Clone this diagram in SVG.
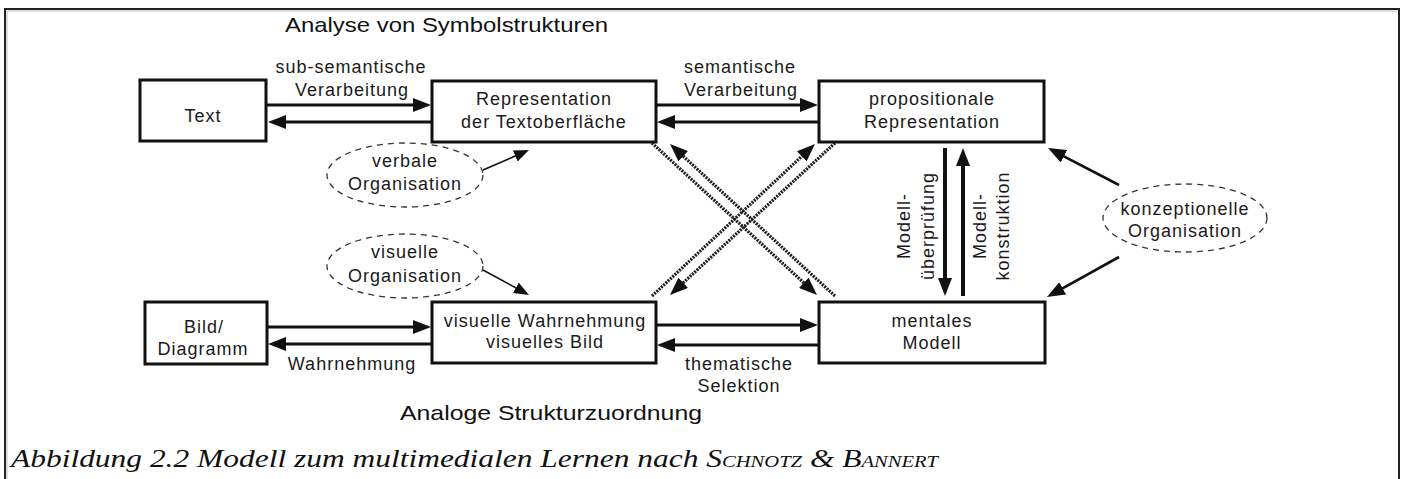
<svg xmlns="http://www.w3.org/2000/svg" width="1404" height="479" viewBox="0 0 1404 479">
<style>
.box{fill:#fff;stroke:#111;stroke-width:3}
.ell{fill:none;stroke:#333;stroke-width:1.3;stroke-dasharray:6 5}
.t{font-family:"Liberation Sans",Arial,sans-serif;font-size:18px;letter-spacing:1px;fill:#1a1a1a;text-anchor:middle}
.title{font-family:"Liberation Sans",Arial,sans-serif;font-size:21px;fill:#111}
.cap{font-family:"Liberation Serif","Times New Roman",serif;font-size:26px;font-style:italic;fill:#111}
.sc{font-size:17px}
.a{fill:none;stroke:#111;stroke-width:3;marker-end:url(#ah)}
.v{fill:none;stroke:#111;stroke-width:4;marker-end:url(#ah)}
.th{fill:none;stroke:#111;stroke-width:1.6;marker-end:url(#ahs)}
.k{fill:none;stroke:#111;stroke-width:2.6;marker-end:url(#ah)}
.ha{fill:none;stroke:#1e1e1e;stroke-width:3.2;stroke-dasharray:2 1.1;marker-end:url(#ahd)}
</style>
<defs>
<marker id="ah" viewBox="0 0 18 14" refX="12" refY="7" markerWidth="18" markerHeight="14" markerUnits="userSpaceOnUse" orient="auto"><path d="M0,0 L18,7 L0,14 Z" fill="#111"/></marker>
<marker id="ahs" viewBox="0 0 15 12" refX="10" refY="6" markerWidth="15" markerHeight="12" markerUnits="userSpaceOnUse" orient="auto"><path d="M0,0 L15,6 L0,12 Z" fill="#111"/></marker>
<marker id="ahd" viewBox="0 0 18 14" refX="12" refY="7" markerWidth="18" markerHeight="14" markerUnits="userSpaceOnUse" orient="auto"><path d="M0,0 L18,7 L0,14 Z" fill="#111"/></marker>
</defs>
<rect x="0" y="0" width="1404" height="479" fill="#fff"/>
<path d="M5,479 V9 H1399 V479" fill="none" stroke="#222" stroke-width="2"/>
<path d="M7,479 V11 H1397" fill="none" stroke="#bbb" stroke-width="1"/>
<text class="title" x="285" y="32" textLength="323" lengthAdjust="spacingAndGlyphs">Analyse von Symbolstrukturen</text>
<text class="title" x="400" y="420" textLength="302" lengthAdjust="spacingAndGlyphs">Analoge Strukturzuordnung</text>
<text class="cap" x="11" y="467" textLength="927" lengthAdjust="spacingAndGlyphs">Abbildung 2.2 Modell zum multimedialen Lernen nach S<tspan class="sc">CHNOTZ</tspan> &amp; B<tspan class="sc">ANNERT</tspan></text>
<g id="connectors">
<line class="a" x1="267" y1="105" x2="425" y2="105"/>
<line class="a" x1="431" y1="122" x2="274" y2="122"/>
<line class="a" x1="657" y1="105" x2="812" y2="105"/>
<line class="a" x1="818" y1="122" x2="663" y2="122"/>
<line class="a" x1="268" y1="327" x2="425" y2="327"/>
<line class="a" x1="431" y1="344" x2="274" y2="344"/>
<line class="a" x1="657" y1="325" x2="812" y2="325"/>
<line class="a" x1="818" y1="345" x2="663" y2="345"/>
<line class="v" x1="945" y1="148" x2="945" y2="290"/>
<line class="v" x1="963" y1="296" x2="963" y2="154"/>
<line class="th" x1="483" y1="170" x2="524.4" y2="152"/>
<line class="th" x1="483" y1="270" x2="524.6" y2="292.6"/>
<line class="k" x1="1119" y1="185" x2="1053.3" y2="150.8"/>
<line class="k" x1="1119" y1="257" x2="1052.2" y2="294.1"/>
<line class="ha" x1="652" y1="143" x2="812.6" y2="290.9"/>
<line class="ha" x1="835" y1="296" x2="674.4" y2="148.1"/>
<line class="ha" x1="652" y1="296" x2="810.6" y2="148.1"/>
<line class="ha" x1="835" y1="143" x2="674.4" y2="290.9"/>
<text class="t" x="351" y="73">sub-semantische</text>
<text class="t" x="352" y="96">Verarbeitung</text>
<text class="t" x="740" y="73">semantische</text>
<text class="t" x="741" y="96">Verarbeitung</text>
<text class="t" x="352" y="370">Wahrnehmung</text>
<text class="t" x="739" y="370">thematische</text>
<text class="t" x="739" y="392">Selektion</text>
<g transform="translate(0,226) rotate(-90)">
<text class="t" x="0" y="910">Modell-</text>
<text class="t" x="0" y="934">überprüfung</text>
</g>
<g transform="translate(0,226) rotate(-90)">
<text class="t" x="0" y="986">Modell-</text>
<text class="t" x="0" y="1009">konstruktion</text>
</g>
</g>
<g id="text">
<rect class="box" x="140" y="80" width="126" height="61"/>
<text class="t" x="203" y="122">Text</text>
</g>
<g id="rep">
<rect class="box" x="432" y="81" width="224" height="61"/>
<text class="t" x="544" y="105">Representation</text>
<text class="t" x="544" y="128">der Textoberfläche</text>
</g>
<g id="prop">
<rect class="box" x="819" y="81" width="225" height="61"/>
<text class="t" x="932" y="105">propositionale</text>
<text class="t" x="932" y="128">Representation</text>
</g>
<g id="bild">
<rect class="box" x="145" y="302" width="122" height="62"/>
<text class="t" x="204" y="333">Bild/</text>
<text class="t" x="203" y="355">Diagramm</text>
</g>
<g id="visuell">
<rect class="box" x="432" y="302" width="224" height="61"/>
<text class="t" x="545" y="327">visuelle Wahrnehmung</text>
<text class="t" x="545" y="348">visuelles Bild</text>
</g>
<g id="mental">
<rect class="box" x="819" y="302" width="226" height="61"/>
<text class="t" x="932" y="327">mentales</text>
<text class="t" x="932" y="349">Modell</text>
</g>
<g id="verbal">
<ellipse class="ell" cx="405" cy="175" rx="78" ry="32"/>
<text class="t" x="405" y="167">verbale</text>
<text class="t" x="405" y="190">Organisation</text>
</g>
<g id="visorg">
<ellipse class="ell" cx="405" cy="266" rx="78" ry="32"/>
<text class="t" x="405" y="258">visuelle</text>
<text class="t" x="405" y="282">Organisation</text>
</g>
<g id="konz">
<ellipse class="ell" cx="1185" cy="218" rx="82" ry="34"/>
<text class="t" x="1185" y="215">konzeptionelle</text>
<text class="t" x="1185" y="237">Organisation</text>
</g>
</svg>
